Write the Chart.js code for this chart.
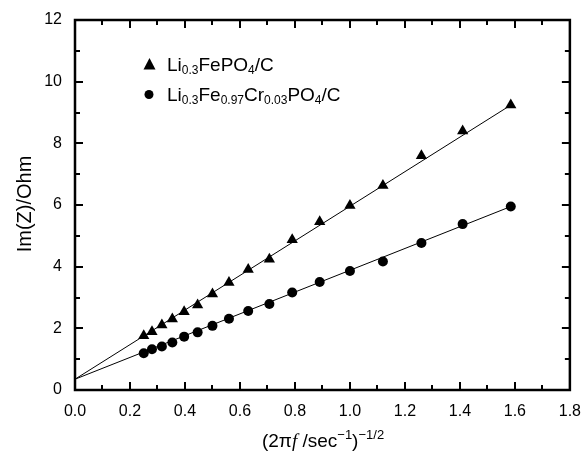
<!DOCTYPE html>
<html>
<head>
<meta charset="utf-8">
<script src="https://cdn.jsdelivr.net/npm/chart.js@4.4.0/dist/chart.umd.min.js"></script>
<style>
  html, body { margin: 0; padding: 0; background: #fff; }
  #wrap { width: 585px; height: 455px; }
</style>
</head>
<body>
<div id="wrap"><canvas id="eisChart" width="585" height="455"></canvas></div>
<script>
// Warburg plot data: Im(Z) vs (2*pi*f)^-1/2
const xValues = [0.25, 0.28, 0.316, 0.354, 0.397, 0.446, 0.5, 0.56, 0.63, 0.707, 0.79, 0.89, 1.0, 1.12, 1.26, 1.41, 1.585];
const pureValues = [1.76, 1.89, 2.11, 2.30, 2.54, 2.76, 3.11, 3.49, 3.91, 4.24, 4.87, 5.46, 5.98, 6.63, 7.60, 8.40, 9.24];
const crValues = [1.19, 1.32, 1.41, 1.54, 1.73, 1.87, 2.08, 2.31, 2.56, 2.79, 3.16, 3.50, 3.86, 4.17, 4.77, 5.38, 5.95];

// fitted lines (start at x=0, end at last point)
const fitX = [0, 1.585];
const pureFit = [0.35, 9.24];
const crFit = [0.35, 5.95];

const xTicks = [0.0, 0.2, 0.4, 0.6, 0.8, 1.0, 1.2, 1.4, 1.6, 1.8];
const yTicks = [0, 2, 4, 6, 8, 10, 12];

const FONT = 'Arial, "Liberation Sans", sans-serif';

function toPoints(xs, ys) {
    return xs.map((x, i) => ({ x: x, y: ys[i] }));
}

// frame + inward ticks on all four sides
const framePlugin = {
    id: 'frame',
    afterDraw(chart) {
        const ctx = chart.ctx;
        const area = chart.chartArea;
        const xs = chart.scales.x;
        const ys = chart.scales.y;
        ctx.save();
        ctx.strokeStyle = '#000';
        ctx.lineWidth = 2;
        ctx.beginPath();
        for (let i = 0; i <= 18; i++) {
            const px = Math.round(xs.getPixelForValue(i / 10));
            const len = i % 2 === 0 ? 8 : 5;
            ctx.moveTo(px, area.bottom);
            ctx.lineTo(px, area.bottom - len);
            ctx.moveTo(px, area.top);
            ctx.lineTo(px, area.top + len);
        }
        for (let v = 0; v <= 12; v += 1) {
            const py = Math.round(ys.getPixelForValue(v));
            const len = v % 2 === 0 ? 8 : 5;
            ctx.moveTo(area.left, py);
            ctx.lineTo(area.left + len, py);
            ctx.moveTo(area.right, py);
            ctx.lineTo(area.right - len, py);
        }
        ctx.stroke();

        ctx.lineWidth = 2.5;
        ctx.strokeRect(area.left, area.top, area.right - area.left, area.bottom - area.top);
        ctx.restore();
    }
};

// draws a run of [text, style] pieces; style: n normal, i italic, sub, sup
function drawRich(ctx, parts, x, y, size, small, align) {
    const fontFor = s => {
        if (s === 'i') return 'italic ' + size + 'px "Liberation Serif", serif';
        if (s === 'sub' || s === 'sup') return small + 'px ' + FONT;
        return size + 'px ' + FONT;
    };
    let total = 0;
    parts.forEach(p => { ctx.font = fontFor(p[1]); total += ctx.measureText(p[0]).width; });
    let cx = align === 'center' ? x - total / 2 : x;
    ctx.textAlign = 'left';
    ctx.textBaseline = 'alphabetic';
    parts.forEach(p => {
        ctx.font = fontFor(p[1]);
        let dy = 0;
        if (p[1] === 'sub') dy = size * 0.17;
        if (p[1] === 'sup') dy = -size * 0.42;
        ctx.fillText(p[0], cx, y + dy);
        cx += ctx.measureText(p[0]).width;
    });
}

const labelPlugin = {
    id: 'labels',
    afterDraw(chart) {
        const ctx = chart.ctx;
        ctx.save();
        ctx.fillStyle = '#000';

        // legend
        ctx.beginPath();
        ctx.moveTo(149.5, 58);
        ctx.lineTo(155.5, 69.5);
        ctx.lineTo(143.5, 69.5);
        ctx.closePath();
        ctx.fill();
        drawRich(ctx, [['Li', 'n'], ['0.3', 'sub'], ['FePO', 'n'], ['4', 'sub'], ['/C', 'n']], 167, 71, 19, 12, 'left');

        ctx.beginPath();
        ctx.arc(149, 94.5, 4.5, 0, Math.PI * 2);
        ctx.fill();
        drawRich(ctx, [['Li', 'n'], ['0.3', 'sub'], ['Fe', 'n'], ['0.97', 'sub'], ['Cr', 'n'], ['0.03', 'sub'],
            ['PO', 'n'], ['4', 'sub'], ['/C', 'n']], 167, 101, 19, 12, 'left');

        // x axis title
        drawRich(ctx, [['(2\u03c0', 'n'], ['f', 'i'], [' /sec', 'n'], ['\u22121', 'sup'], [')', 'n'], ['\u22121/2', 'sup']],
            323, 447, 19, 13, 'center');

        // y axis title
        ctx.translate(25, 204);
        ctx.rotate(-Math.PI / 2);
        ctx.font = '20px ' + FONT;
        ctx.textAlign = 'center';
        ctx.textBaseline = 'middle';
        ctx.fillText('Im(Z)/Ohm', 0, 0);
        ctx.restore();
    }
};

const ctx = document.getElementById('eisChart').getContext('2d');
new Chart(ctx, {
    type: 'scatter',
    data: {
        datasets: [
            {
                label: 'fit1',
                data: toPoints(fitX, pureFit),
                showLine: true,
                borderColor: '#000',
                borderWidth: 1,
                pointRadius: 0
            },
            {
                label: 'fit2',
                data: toPoints(fitX, crFit),
                showLine: true,
                borderColor: '#000',
                borderWidth: 1,
                pointRadius: 0
            },
            {
                label: 'Li0.3FePO4/C',
                data: toPoints(xValues, pureValues),
                pointStyle: 'triangle',
                pointRadius: 6.5,
                backgroundColor: '#000',
                borderColor: '#000',
                borderWidth: 0
            },
            {
                label: 'Li0.3Fe0.97Cr0.03PO4/C',
                data: toPoints(xValues, crValues),
                pointStyle: 'circle',
                pointRadius: 5,
                backgroundColor: '#000',
                borderColor: '#000',
                borderWidth: 0
            }
        ]
    },
    options: {
        responsive: false,
        animation: false,
        layout: { padding: { left: 0, right: 14, top: 20, bottom: 0 } },
        plugins: {
            legend: { display: false },
            tooltip: { enabled: false }
        },
        scales: {
            x: {
                type: 'linear',
                min: 0,
                max: 1.8,
                afterBuildTicks: s => { s.ticks = xTicks.map(v => ({ value: v })); },
                afterFit: s => { s.height = 65; },
                grid: { display: false },
                border: { display: false },
                ticks: {
                    color: '#000',
                    font: { family: FONT, size: 16 },
                    padding: 4,
                    maxRotation: 0,
                    callback: v => v.toFixed(1)
                }
            },
            y: {
                type: 'linear',
                min: 0,
                max: 12,
                afterBuildTicks: s => { s.ticks = yTicks.map(v => ({ value: v })); },
                afterFit: s => { s.width = 75; },
                grid: { display: false },
                border: { display: false },
                ticks: {
                    color: '#000',
                    font: { family: FONT, size: 16 },
                    padding: 5,
                    callback: v => String(v)
                }
            }
        }
    },
    plugins: [framePlugin, labelPlugin]
});
</script>
</body>
</html>
